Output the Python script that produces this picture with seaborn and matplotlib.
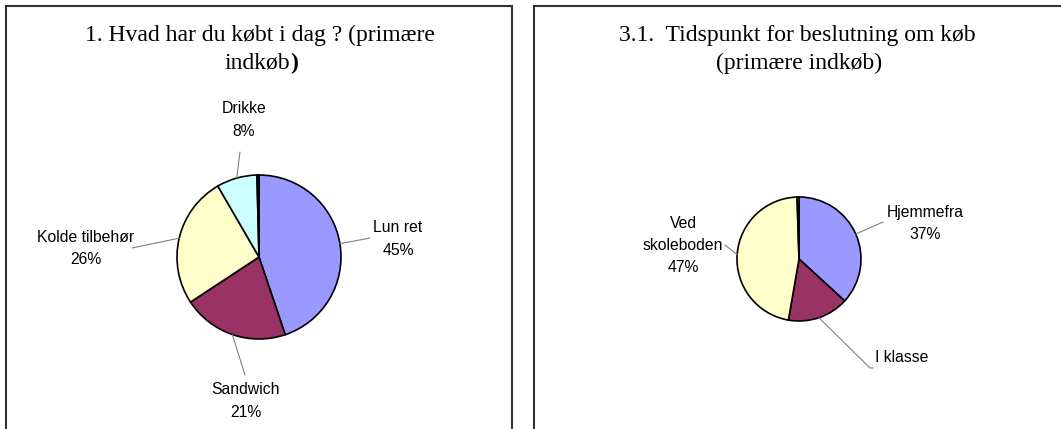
import matplotlib
matplotlib.use("Agg")
import matplotlib.pyplot as plt
import matplotlib.patches as mpatches
import numpy as np
import seaborn as sns

# ---------------- data ----------------
left_title_1 = "1. Hvad har du købt i dag ? (primære"
left_title_2 = "indkøb"
left_labels = ["Lun ret", "Sandwich", "Kolde tilbehør", "Drikke", ""]
left_values = [45, 21, 26, 8, 0.4]
left_show_pct = [True, True, True, True, False]

right_title_1 = "3.1.  Tidspunkt for beslutning om køb"
right_title_2 = "(primære indkøb)"
right_labels = ["Hjemmefra", "I klasse", "Ved\nskoleboden", ""]
right_values = [37, 16, 47, 0.5]
right_show_pct = [True, False, True, False]

# ---------------- style ----------------
sns.set_theme(style="white")
palette = sns.color_palette(["#9999FF", "#993366", "#FFFFCC", "#CCFFFF", "#660066"])
plt.rcParams["font.family"] = ["Liberation Sans", "DejaVu Sans"]
plt.rcParams["text.color"] = "black"

W, H = 1061, 429
fig = plt.figure(figsize=(W / 100, H / 100), dpi=100)
ax = fig.add_axes([0, 0, 1, 1])


def Y(y):
    return H - y


def draw_pie(values, labels, show_pct, center, radius, label_pos, leader_end, extra_end=None):
    cx, cy = center
    wedges, _ = ax.pie(values, colors=palette[:len(values)], startangle=90,
                       counterclock=False, center=(cx, Y(cy)), radius=radius,
                       wedgeprops=dict(edgecolor="black", linewidth=1.2))
    total = sum(values)
    for i, w in enumerate(wedges):
        if not labels[i]:
            continue
        mid = np.deg2rad((w.theta1 + w.theta2) / 2)
        sx = cx + radius * np.cos(mid)
        sy = Y(cy) + radius * np.sin(mid)
        ex, ey = leader_end[i]
        xs, ys = [sx, ex], [sy, Y(ey)]
        if extra_end is not None and extra_end[i] is not None:
            xs.append(extra_end[i][0]); ys.append(Y(extra_end[i][1]))
        ax.plot(xs, ys, color="#808080", lw=0.8, zorder=1)
        txt = labels[i]
        if show_pct[i]:
            txt += "\n%d%%" % round(values[i] / total * 100)
        tx, ty = label_pos[i]
        ax.text(tx, Y(ty), txt, ha="center", va="center", fontsize=11.3,
                linespacing=1.62, color="black")


# left pie
draw_pie(left_values, left_labels, left_show_pct, center=(259, 257), radius=82,
         label_pos=[(398, 239), (246, 401), (86, 248.5), (244, 120), None],
         leader_end=[(370, 238), (245, 375), (132, 248), (240, 152), None])

# right pie
draw_pie(right_values, right_labels, right_show_pct, center=(799, 259), radius=62,
         label_pos=[(925, 223.5), (902, 358), (683, 245.5), None],
         leader_end=[(883, 222), (870, 368), (725, 245), None],
         extra_end=[None, (873, 368), None, None])

# titles
serif = ["Liberation Serif", "DejaVu Serif"]
ax.text(260, Y(35), left_title_1, ha="center", va="center", fontsize=17, family=serif, color="black")
t2 = ax.text(257, Y(63), left_title_2, ha="center", va="center", fontsize=17, family=serif, color="black")
ax.annotate(")", xy=(1, 0.5), xycoords=t2, ha="left", va="center", fontsize=17,
            family=serif, fontweight="bold", color="black")
ax.text(797, Y(35), right_title_1, ha="center", va="center", fontsize=17, family=serif, color="black")
ax.text(799, Y(63), right_title_2, ha="center", va="center", fontsize=17, family=serif, color="black")

# panel frames
ax.add_patch(mpatches.Rectangle((5.5, Y(440)), 506.5, 434.5, fill=False, edgecolor="#333333", lw=1.5))
ax.add_patch(mpatches.Rectangle((534, Y(440)), 540, 434.5, fill=False, edgecolor="#333333", lw=1.5))

ax.set_xlim(0, W)
ax.set_ylim(0, H)
ax.set_aspect("auto")
ax.axis("off")

fig.savefig("out.png", dpi=100, facecolor="white")
